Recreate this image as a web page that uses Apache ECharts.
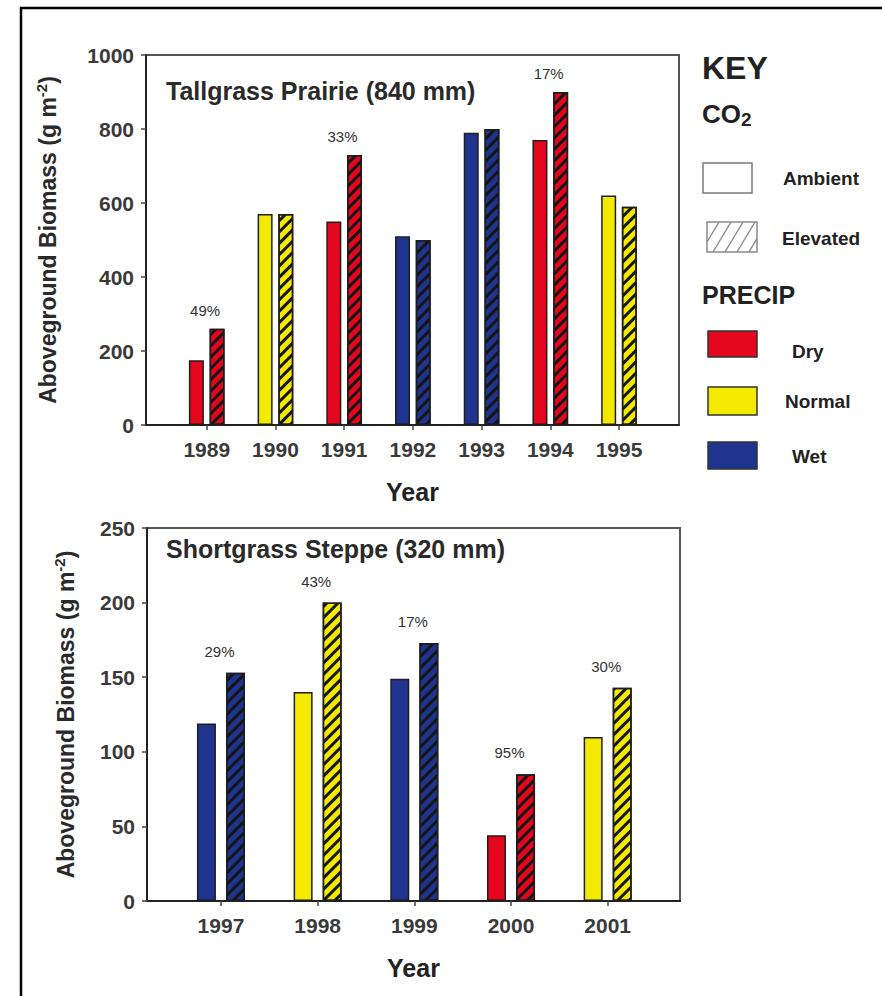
<!DOCTYPE html>
<html><head><meta charset="utf-8">
<script src="https://cdn.jsdelivr.net/npm/echarts@6/dist/echarts.min.js"></script>
<style>html,body{margin:0;padding:0;background:#fff}#c{width:882px;height:996px}</style>
</head><body><div id="c"></div>
<script>
// ---- data ----
const tallYears = [1989, 1990, 1991, 1992, 1993, 1994, 1995];
const tallPrecip = ['Dry', 'Normal', 'Dry', 'Wet', 'Wet', 'Dry', 'Normal'];
const tallAmbient = [175, 570, 550, 510, 790, 770, 620];
const tallElevated = [260, 570, 730, 500, 800, 900, 590];
const tallPct = ['49%', '', '33%', '', '', '17%', ''];

const shortYears = [1997, 1998, 1999, 2000, 2001];
const shortPrecip = ['Wet', 'Normal', 'Wet', 'Dry', 'Normal'];
const shortAmbient = [119, 140, 149, 44, 110];
const shortElevated = [153, 200, 173, 85, 143];
const shortPct = ['29%', '43%', '17%', '95%', '30%'];

const tallYRange = [0, 1000, 200];
const shortYRange = [0, 250, 50];
const tallTitle = 'Tallgrass Prairie (840 mm)';
const shortTitle = 'Shortgrass Steppe (320 mm)';

// ---- styles ----
const FONT = '"Liberation Sans", Arial, Helvetica, sans-serif';
const precipColors = { Dry: '#e4061c', Normal: '#f3ea00', Wet: '#1f348e' };
const hatch = { symbol: 'rect', symbolSize: 1, dashArrayX: [1, 0], dashArrayY: [3, 5], rotation: -Math.PI / 4, color: '#151515' };

function xAxisCfg(gi, years, min, max) {
  return {
    type: 'value', gridIndex: gi, min: min, max: max,
    splitLine: { show: false },
    axisLine: { show: true, onZero: false, lineStyle: { color: '#222', width: 2 } },
    axisTick: { show: true, customValues: years, length: 5, lineStyle: { color: '#444', width: 1.5 } },
    axisLabel: { customValues: years, formatter: v => String(v), fontSize: 21, fontWeight: 'bold', color: '#3a3a3a', margin: 14, fontFamily: FONT },
    name: 'Year', nameLocation: 'middle', nameGap: 54,
    nameTextStyle: { fontSize: 25, fontWeight: 'bold', color: '#222', fontFamily: FONT }
  };
}
function yAxisCfg(gi, rng, gap) {
  return {
    type: 'value', gridIndex: gi, min: rng[0], max: rng[1], interval: rng[2],
    splitLine: { show: false },
    axisLine: { show: true, lineStyle: { color: '#222', width: 2 } },
    axisTick: { show: true, length: 5, lineStyle: { color: '#444', width: 1.5 } },
    axisLabel: { formatter: v => String(v), fontSize: 21, fontWeight: 'bold', color: '#3a3a3a', margin: 12, fontFamily: FONT },
    name: '{a|Aboveground Biomass (g m}{s|-2}{a|)}', nameLocation: 'middle', nameRotate: 90, nameGap: gap,
    nameTextStyle: {
      color: '#2a2a2a', fontFamily: FONT,
      rich: {
        a: { fontSize: 23, fontWeight: 'bold', color: '#2a2a2a', fontFamily: FONT, lineHeight: 28 },
        s: { fontSize: 15, fontWeight: 'bold', color: '#2a2a2a', fontFamily: FONT, verticalAlign: 'top', lineHeight: 28, padding: [0, 0, 13, 0] }
      }
    }
  };
}
function barSeries(gi, years, vals, precip, elevated, pcts, barW, gapPct, lblOffset) {
  const s = {
    type: 'bar', xAxisIndex: gi, yAxisIndex: gi,
    barWidth: barW, barGap: gapPct,
    data: years.map((y, i) => ({ value: [y, vals[i]], itemStyle: { color: precipColors[precip[i]] } })),
    itemStyle: { borderColor: '#1e1e1e', borderWidth: 1.5 },
    emphasis: { disabled: true },
    silent: true
  };
  if (elevated) {
    s.itemStyle.decal = hatch;
    s.label = {
      show: true, position: 'top', offset: lblOffset,
      formatter: p => pcts[p.dataIndex] || '',
      fontSize: 15, color: '#333', fontFamily: FONT
    };
  }
  return s;
}

// ---- legend (drawn as graphics) ----
const legendBoxes = [
  { x: 708, y: 331, h: 26, fill: precipColors.Dry, label: 'Dry', tx: 792, ty: 351 },
  { x: 708, y: 387, h: 28, fill: precipColors.Normal, label: 'Normal', tx: 785, ty: 401 },
  { x: 708, y: 442, h: 27, fill: precipColors.Wet, label: 'Wet', tx: 792, ty: 456 }
];
function txt(text, x, y, size, extra) {
  return Object.assign({
    type: 'text', silent: true,
    style: { text: text, x: x, y: y, font: 'bold ' + size + 'px ' + FONT, fill: '#222',
      textAlign: 'left', align: 'left', textVerticalAlign: 'middle', verticalAlign: 'middle' }
  }, extra || {});
}
function hatchLines(x0, y0, w, h, step, run) {
  const out = [];
  for (let s = -run; s < w; s += step) {
    let t0 = 0, t1 = 1;
    const ax = x0 + s, dx = run;
    if (ax < x0) t0 = Math.max(t0, (x0 - ax) / dx);
    if (ax + dx > x0 + w) t1 = Math.min(t1, (x0 + w - ax) / dx);
    if (t1 <= t0) continue;
    out.push({ type: 'line', silent: true,
      shape: { x1: ax + dx * t0, y1: y0 + h - h * t0, x2: ax + dx * t1, y2: y0 + h - h * t1 },
      style: { stroke: '#8a8a8a', lineWidth: 1.4 } });
  }
  return out;
}
const graphics = [
  { type: 'rect', silent: true, shape: { x: 21, y: 8, width: 900, height: 1010 }, style: { fill: 'none', stroke: '#000', lineWidth: 2.5 } },
  txt('KEY', 702, 68, 32),
  { type: 'text', silent: true, style: { text: '{a|CO}{s|2}', x: 702, y: 114, fill: '#222',
      textAlign: 'left', align: 'left', textVerticalAlign: 'middle', verticalAlign: 'middle',
      rich: { a: { font: 'bold 26px ' + FONT, fill: '#222', lineHeight: 30 },
              s: { font: 'bold 19px ' + FONT, fill: '#222', lineHeight: 30, verticalAlign: 'bottom', padding: [12, 0, 0, 0] } } } },
  { type: 'rect', silent: true, shape: { x: 703, y: 163, width: 49, height: 30 }, style: { fill: '#fff', stroke: '#7a7a7a', lineWidth: 1.5 } },
  txt('Ambient', 783, 178, 19),
  { type: 'rect', silent: true, shape: { x: 707, y: 222, width: 50, height: 30 }, style: { fill: '#fff', stroke: '#8a8a8a', lineWidth: 1.5 } },
  txt('Elevated', 782, 238, 19),
  txt('PRECIP', 702, 295, 25)
].concat(hatchLines(707, 222, 50, 30, 12, 18));
legendBoxes.forEach(b => {
  graphics.push({ type: 'rect', silent: true, shape: { x: b.x, y: b.y, width: 49, height: b.h }, style: { fill: b.fill, stroke: '#333', lineWidth: 1.5 } });
  graphics.push(txt(b.label, b.tx, b.ty, 19));
});

const chart = echarts.init(document.getElementById('c'), null, { renderer: 'svg' });
chart.setOption({
  animation: false,
  backgroundColor: '#fff',
  textStyle: { fontFamily: FONT },
  title: [
    { text: tallTitle, left: 166, top: 78, padding: 0, textStyle: { fontSize: 25, fontWeight: 'bold', color: '#2a2a2a', fontFamily: FONT } },
    { text: shortTitle, left: 166, top: 536, padding: 0, textStyle: { fontSize: 25, fontWeight: 'bold', color: '#2a2a2a', fontFamily: FONT } }
  ],
  grid: [
    { left: 146, top: 55, width: 533, height: 370, show: true, borderColor: '#555', borderWidth: 2, backgroundColor: 'transparent' },
    { left: 147, top: 528, width: 533, height: 373, show: true, borderColor: '#555', borderWidth: 2, backgroundColor: 'transparent' }
  ],
  xAxis: [
    xAxisCfg(0, tallYears, 1988.116, 1995.873),
    xAxisCfg(1, shortYears, 1996.235, 2001.748)
  ],
  yAxis: [
    yAxisCfg(0, tallYRange, 84),
    yAxisCfg(1, shortYRange, 67)
  ],
  series: [
    barSeries(0, tallYears, tallAmbient, tallPrecip, false, null, 15, '38%'),
    barSeries(0, tallYears, tallElevated, tallPrecip, true, tallPct, 15, '38%', [-12, -6]),
    barSeries(1, shortYears, shortAmbient, shortPrecip, false, null, 19, '53%'),
    barSeries(1, shortYears, shortElevated, shortPrecip, true, shortPct, 19, '53%', [-16, -9])
  ],
  graphic: graphics
});
</script>
</body></html>
